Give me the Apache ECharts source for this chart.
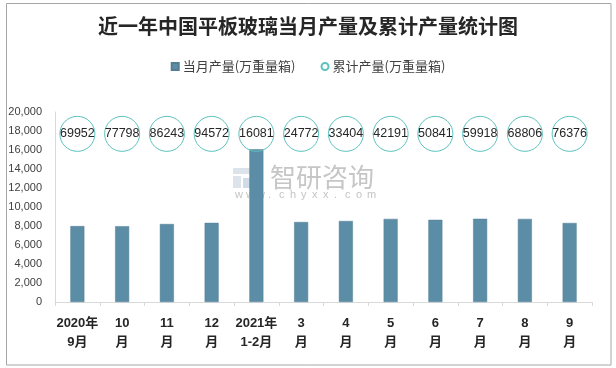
<!DOCTYPE html>
<html><head><meta charset="utf-8">
<script src="https://cdn.jsdelivr.net/npm/echarts@6/dist/echarts.min.js"></script>
<style>html,body{margin:0;padding:0;background:#fff}#c{width:616px;height:368px}</style>
</head><body><div id="c"></div>
<script>
var categories = ['2020年\n9月','10\n月','11\n月','12\n月','2021年\n1-2月','3\n月','4\n月','5\n月','6\n月','7\n月','8\n月','9\n月'];
var monthly = [7990, 7980, 8210, 8330, 16081, 8420, 8530, 8750, 8650, 8760, 8750, 8320];
var cumulative = [69952, 77798, 86243, 94572, 16081, 24772, 33404, 42191, 50841, 59918, 68806, 76376];
var yTicks = [0, 2000, 4000, 6000, 8000, 10000, 12000, 14000, 16000, 18000, 20000];
var seriesNames = ['当月产量(万重量箱)', '累计产量(万重量箱)'];
var titleText = '近一年中国平板玻璃当月产量及累计产量统计图';
var circleRow = 17700; // vertical row where the cumulative circles sit

var chart = echarts.init(document.getElementById('c'));
var font = '"Liberation Sans", "Noto Sans CJK SC", sans-serif';

var wm = [];
var url = 'www.chyxx.com';
for (var i = 0; i < url.length; i++) {
  wm.push({type:'text', z:1, left: 235 + i*11, top: 189, style:{text:url[i], fill:'#c4c4c4', font:'11px ' + font}});
}
wm.push({type:'text', z:1, left: 270, top: 164, style:{text:'智研咨询', fill:'#c6c6c6', font:'26px "Noto Sans CJK SC", sans-serif'}});
wm.push({type:'rect', z:1, shape:{x:233, y:168, width:18, height:6}, style:{fill:'#dde3ea'}});
wm.push({type:'rect', z:1, shape:{x:233, y:176, width:8, height:12}, style:{fill:'#dde3ea'}});
wm.push({type:'rect', z:1, shape:{x:243, y:178, width:9, height:10}, style:{fill:'#cfdbe8'}});
wm.push({type:'rect', z:0, shape:{x:6.5, y:3.5, width:604.5, height:361.5}, style:{fill:'none', stroke:'#a6a6a6', lineWidth:1}});

chart.setOption({
  animation: false,
  backgroundColor: '#fff',
  title: {
    text: titleText, left: 'center', top: 16, padding: 0,
    textStyle: {fontSize: 20, fontWeight: 'bold', color: '#262626', fontFamily: '"Noto Sans CJK SC", sans-serif'}
  },
  legend: {
    top: 55, left: 'center', itemWidth: 7, itemHeight: 7, itemGap: 25,
    textStyle: {fontSize: 13, color: '#404040', fontFamily: '"Noto Sans CJK SC", sans-serif', padding:[0,0,0,-1]},
    data: [{name: seriesNames[0], icon: 'rect'}, {name: seriesNames[1], icon: 'circle'}]
  },
  grid: {left: 55, right: 24, top: 112, bottom: 66, containLabel: false},
  xAxis: {
    type: 'category', data: categories, boundaryGap: true,
    axisLine: {lineStyle: {color: '#d9d9d9'}},
    axisTick: {show: true, length: 4, lineStyle: {color: '#d9d9d9'}},
    axisLabel: {interval: 0, margin: 12, fontSize: 13, fontWeight: 'bold', color: '#262626', lineHeight: 19, fontFamily: font}
  },
  yAxis: {
    type: 'value', min: yTicks[0], max: yTicks[yTicks.length-1], interval: yTicks[1]-yTicks[0],
    axisLine: {show: true, lineStyle: {color: '#d9d9d9'}},
    axisTick: {show: false},
    splitLine: {show: false},
    axisLabel: {fontSize: 11, color: '#404040', margin: 13, fontFamily: font,
      formatter: function(v){ return v.toLocaleString('en-US'); }}
  },
  graphic: wm,
  series: [
    {
      name: seriesNames[0], type: 'bar', data: monthly, barWidth: 14, z: 2,
      itemStyle: {color: '#5b8ea6', borderColor: '#527f96', borderWidth: 0.5}
    },
    {
      name: seriesNames[1], type: 'scatter', z: 3,
      data: cumulative.map(function(v, i){ return [i, circleRow, v]; }),
      symbol: 'circle', symbolSize: 35,
      itemStyle: {color: 'rgba(255,255,255,0)', borderColor: '#5cc2bf', borderWidth: 1, opacity: 1},
      label: {show: true, position: 'inside', fontSize: 12.5, color: '#262626', fontFamily: font,
        formatter: function(p){ return String(p.value[2]); }}
    }
  ]
});
</script>
</body></html>
